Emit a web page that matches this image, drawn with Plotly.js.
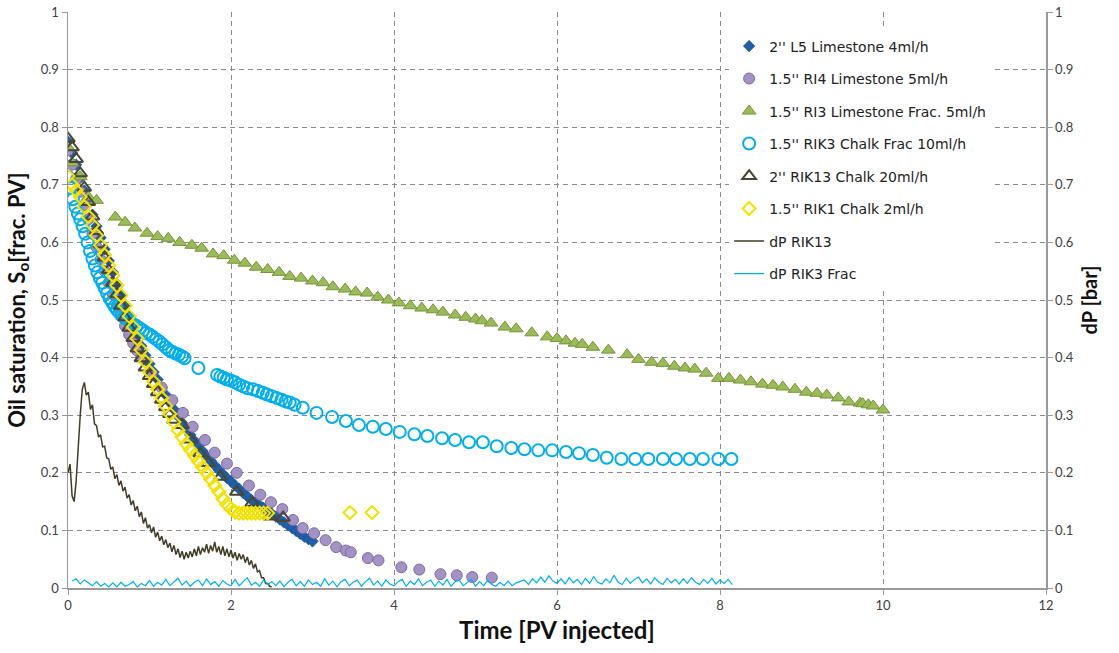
<!DOCTYPE html>
<html>
<head>
<meta charset="utf-8">
<script src="https://cdn.plot.ly/plotly-3.0.1.min.js"></script>
<style>html,body{margin:0;padding:0;background:#fff;}#chart{width:1119px;height:653px;}</style>
</head>
<body>
<div id="chart"></div>
<script>
// ---------- DATA ----------
const l5X = [0,0.05,0.1,0.15,0.2,0.25,0.3,0.35,0.4,0.45,0.5,0.55,0.6,0.65,0.7,0.75,0.8,0.85,0.9,0.95,1.0,1.05,1.1,1.15,1.2,1.25,1.3,1.35,1.4,1.45,1.5,1.55,1.6,1.65,1.7,1.75,1.8,1.85,1.9,1.95,2.0,2.05,2.1,2.15,2.2,2.25,2.3,2.35,2.4,2.45,2.5,2.55,2.6,2.65,2.7,2.75,2.8,2.85,2.9,2.95,3.0];
const l5Y = [0.775,0.755,0.735,0.712,0.69,0.668,0.648,0.628,0.608,0.588,0.568,0.548,0.528,0.508,0.49,0.472,0.455,0.437,0.42,0.404,0.389,0.375,0.362,0.348,0.335,0.322,0.31,0.298,0.287,0.276,0.266,0.256,0.247,0.238,0.229,0.221,0.213,0.205,0.198,0.191,0.185,0.178,0.172,0.165,0.159,0.153,0.148,0.144,0.139,0.134,0.129,0.124,0.119,0.114,0.109,0.104,0.099,0.094,0.089,0.085,0.081];

const ri4X = [0,0.05,0.1,0.15,0.2,0.25,0.3,0.35,0.4,0.45,0.5,0.55,0.6,0.65,0.7,0.75,0.8,0.85,0.9,1.02,1.15,1.28,1.41,1.53,1.68,1.8,1.95,2.07,2.22,2.36,2.49,2.63,2.76,2.88,3.02,3.16,3.29,3.41,3.47,3.68,3.81,4.09,4.31,4.57,4.77,4.96,5.2];
const ri4Y = [0.76,0.735,0.71,0.688,0.665,0.64,0.615,0.592,0.57,0.55,0.53,0.51,0.49,0.472,0.455,0.44,0.425,0.412,0.4,0.372,0.348,0.326,0.304,0.28,0.257,0.235,0.216,0.2,0.178,0.162,0.149,0.137,0.118,0.104,0.095,0.083,0.071,0.065,0.062,0.052,0.048,0.036,0.032,0.024,0.022,0.019,0.018];

const ri3X = [0,0.05,0.15,0.25,0.35,0.58,0.70,0.82,0.97,1.10,1.23,1.37,1.52,1.64,1.78,1.91,2.04,2.17,2.31,2.45,2.59,2.72,2.86,3.0,3.13,3.25,3.4,3.53,3.67,3.80,3.93,4.06,4.2,4.34,4.48,4.6,4.75,4.88,5.0,5.08,5.19,5.36,5.5,5.69,5.88,6.0,6.11,6.22,6.31,6.44,6.63,6.86,7.0,7.16,7.3,7.44,7.57,7.69,7.83,7.98,8.11,8.25,8.38,8.52,8.65,8.77,8.92,9.06,9.19,9.31,9.45,9.58,9.72,9.75,9.82,9.88,10.0];
const ri3Y = [0.765,0.738,0.714,0.679,0.673,0.644,0.635,0.625,0.616,0.61,0.607,0.60,0.595,0.59,0.58,0.577,0.569,0.564,0.557,0.553,0.548,0.541,0.538,0.533,0.53,0.523,0.519,0.514,0.512,0.505,0.50,0.495,0.49,0.486,0.483,0.479,0.474,0.47,0.467,0.464,0.46,0.453,0.45,0.443,0.436,0.433,0.429,0.425,0.423,0.418,0.413,0.405,0.397,0.392,0.39,0.385,0.382,0.38,0.373,0.364,0.364,0.361,0.358,0.354,0.352,0.349,0.345,0.34,0.338,0.335,0.33,0.323,0.321,0.32,0.318,0.316,0.309];

const rik3X = [0,0.03,0.06,0.09,0.12,0.15,0.18,0.21,0.24,0.27,0.3,0.33,0.36,0.39,0.42,0.45,0.48,0.51,0.54,0.57,0.6,0.63,0.66,0.69,0.72,0.76,0.8,0.84,0.88,0.92,0.96,1.0,1.04,1.08,1.12,1.16,1.2,1.24,1.28,1.32,1.36,1.4,1.43,1.6,1.83,1.87,1.91,1.95,2.0,2.05,2.1,2.15,2.2,2.27,2.33,2.39,2.44,2.5,2.56,2.62,2.67,2.72,2.78,2.88,3.05,3.24,3.41,3.57,3.74,3.9,4.07,4.25,4.41,4.59,4.75,4.92,5.09,5.26,5.44,5.6,5.77,5.94,6.11,6.27,6.44,6.61,6.79,6.96,7.12,7.3,7.46,7.63,7.79,7.98,8.14];
const rik3Y = [0.714,0.695,0.675,0.662,0.65,0.64,0.628,0.615,0.6,0.585,0.572,0.56,0.548,0.538,0.53,0.521,0.512,0.503,0.496,0.489,0.483,0.478,0.474,0.47,0.467,0.463,0.458,0.455,0.451,0.447,0.443,0.44,0.436,0.432,0.428,0.423,0.418,0.413,0.41,0.407,0.405,0.402,0.399,0.382,0.37,0.367,0.365,0.362,0.36,0.357,0.353,0.35,0.347,0.345,0.342,0.339,0.336,0.333,0.33,0.327,0.324,0.322,0.318,0.313,0.304,0.297,0.29,0.283,0.28,0.276,0.271,0.267,0.264,0.26,0.257,0.253,0.253,0.246,0.243,0.241,0.239,0.239,0.236,0.234,0.231,0.226,0.224,0.224,0.224,0.224,0.224,0.224,0.224,0.224,0.224];

const rik13X = [0,0.05,0.1,0.15,0.2,0.25,0.3,0.35,0.4,0.45,0.5,0.55,0.6,0.65,0.7,0.75,0.8,0.85,0.9,0.95,1.0,1.05,1.1,1.15,1.2,1.25,1.3,1.4,1.5,1.62,1.72,1.87,2.07,2.26,2.48,2.64];
const rik13Y = [0.78,0.765,0.745,0.72,0.695,0.67,0.645,0.62,0.597,0.574,0.552,0.53,0.51,0.49,0.47,0.452,0.434,0.416,0.399,0.383,0.368,0.354,0.34,0.327,0.314,0.302,0.292,0.283,0.258,0.234,0.217,0.193,0.167,0.148,0.124,0.122];

const rik1X = [0,0.05,0.1,0.15,0.2,0.25,0.3,0.35,0.4,0.45,0.5,0.55,0.6,0.65,0.7,0.75,0.8,0.85,0.9,0.95,1.0,1.05,1.1,1.15,1.2,1.25,1.3,1.35,1.4,1.45,1.5,1.55,1.6,1.65,1.7,1.75,1.8,1.85,1.9,1.95,2.0,2.05,2.1,2.15,2.2,2.25,2.3,2.35,2.4,2.45,3.46,3.73];
const rik1Y = [0.715,0.70,0.69,0.679,0.662,0.645,0.63,0.612,0.595,0.578,0.56,0.543,0.525,0.508,0.49,0.472,0.453,0.433,0.413,0.393,0.375,0.358,0.345,0.33,0.316,0.302,0.288,0.274,0.262,0.25,0.24,0.23,0.22,0.21,0.2,0.189,0.178,0.167,0.155,0.145,0.137,0.132,0.13,0.13,0.13,0.13,0.13,0.13,0.13,0.13,0.131,0.131];

// dP RIK13, sampled every 0.025 PV from 0
const dpRik13Start = 0, dpRik13Step = 0.025;
const dpRik13 = [0.2,0.215,0.16,0.15,0.185,0.255,0.3,0.345,0.357,0.335,0.34,0.31,0.318,0.285,0.282,0.262,0.266,0.245,0.246,0.226,0.224,0.206,0.21,0.19,0.197,0.178,0.186,0.168,0.175,0.156,0.162,0.144,0.152,0.134,0.142,0.124,0.132,0.112,0.122,0.104,0.11,0.096,0.106,0.088,0.097,0.082,0.09,0.075,0.084,0.07,0.078,0.063,0.074,0.058,0.068,0.053,0.064,0.05,0.062,0.052,0.064,0.054,0.068,0.056,0.072,0.058,0.07,0.062,0.076,0.06,0.074,0.064,0.08,0.062,0.072,0.058,0.072,0.056,0.068,0.054,0.066,0.052,0.062,0.048,0.06,0.05,0.058,0.044,0.054,0.04,0.048,0.034,0.042,0.028,0.03,0.018,0.018,0.008,0.008,0.003,0.002];

// dP RIK3 Frac, sampled every 0.05 PV from 0.05
const dpRik3Start = 0.05, dpRik3Step = 0.05;
const dpRik3 = [
0.012,0.016,0.007,0.014,0.009,0.004,0.011,0.003,0.008,0.002,
0.009,0.002,0.010,0.003,0.006,0.011,0.002,0.008,0.004,0.013,
0.003,0.010,0.005,0.015,0.004,0.011,0.017,0.005,0.012,0.003,
0.010,0.014,0.004,0.016,0.006,0.011,0.003,0.013,0.007,0.004,
0.015,0.004,0.011,0.018,0.005,0.010,0.003,0.014,0.006,0.011,
0.004,0.012,0.002,0.010,0.015,0.004,0.011,0.003,0.014,0.006,
0.010,0.003,0.016,0.005,0.012,0.002,0.011,0.015,0.004,0.010,
0.014,0.003,0.011,0.017,0.005,0.012,0.003,0.014,0.007,0.004,
0.011,0.015,0.003,0.012,0.006,0.016,0.004,0.010,0.014,0.003,
0.012,0.005,0.015,0.003,0.011,0.014,0.004,0.010,0.015,0.003,
0.011,0.004,0.013,0.006,0.003,0.010,0.004,0.012,0.004,0.009,
0.011,0.014,0.006,0.016,0.009,0.019,0.010,0.021,0.012,0.008,
0.016,0.007,0.018,0.009,0.015,0.006,0.017,0.008,0.020,0.010,
0.007,0.016,0.009,0.022,0.010,0.006,0.017,0.008,0.015,0.019,
0.009,0.016,0.007,0.018,0.010,0.006,0.017,0.009,0.015,0.007,
0.016,0.008,0.018,0.010,0.006,0.015,0.008,0.017,0.007,0.014,
0.008,0.015,0.006];

const names = ["2'' L5 Limestone 4ml/h","1.5'' RI4 Limestone 5ml/h","1.5'' RI3 Limestone Frac. 5ml/h","1.5'' RIK3 Chalk Frac 10ml/h","2'' RIK13 Chalk 20ml/h","1.5'' RIK1 Chalk 2ml/h","dP RIK13","dP RIK3 Frac"];
const xTicks = [0,2,4,6,8,10,12];

// ---------- BUILD ----------
const sampled = (start, step, arr) => arr.map((_, i) => +(start + i * step).toFixed(4));

const traces = [
  {x:l5X, y:l5Y, name:names[0], mode:'markers', type:'scatter', legendgroup:'g0',
   marker:{symbol:'diamond', size:9, color:'#1f5ea8', line:{color:'#1a4f8f', width:0.5}}},
  {x:ri4X, y:ri4Y, name:names[1], mode:'markers', type:'scatter', legendgroup:'g1',
   marker:{symbol:'circle', size:11, color:'#a392c4', line:{color:'#7e69a6', width:1}}},
  {x:ri3X, y:ri3Y, name:names[2], mode:'markers', type:'scatter', legendgroup:'g2',
   marker:{symbol:'triangle-up', size:12, color:'#9bbb59', line:{color:'#76923c', width:1}}},
  {x:rik3X, y:rik3Y, name:names[3], mode:'markers', type:'scatter', legendgroup:'g3',
   marker:{symbol:'circle-open', size:12, color:'#00aeef', line:{color:'#00aeef', width:2}}},
  {x:rik13X, y:rik13Y, name:names[4], mode:'markers', type:'scatter', legendgroup:'g4',
   marker:{symbol:'triangle-up-open', size:12, color:'#4a4630', line:{color:'#4a4630', width:2}}},
  {x:rik1X, y:rik1Y, name:names[5], mode:'markers', type:'scatter', legendgroup:'g5',
   marker:{symbol:'diamond-open', size:10, color:'#f2e200', line:{color:'#f2e200', width:2}}},
  {x:sampled(dpRik13Start, dpRik13Step, dpRik13), y:dpRik13, name:names[6], mode:'lines', type:'scatter', yaxis:'y2', legendgroup:'g6',
   line:{color:'#403c26', width:1.5}},
  {x:sampled(dpRik3Start, dpRik3Step, dpRik3), y:dpRik3, name:names[7], mode:'lines', type:'scatter', yaxis:'y2', legendgroup:'g7',
   line:{color:'#00aeef', width:1.2}}
];

const fontFam = 'Lato, "Open Sans", sans-serif';
const legFam = '"DejaVu Sans", "Open Sans", sans-serif';
const gridStyle = {showgrid:true, gridcolor:'#8a8a8a', gridwidth:1, griddash:'5px,4px'};

const layout = {
  width:1119, height:653,
  margin:{l:68, r:73, t:12, b:65},
  paper_bgcolor:'#ffffff', plot_bgcolor:'#ffffff',
  font:{family:fontFam, color:'#404040', size:13},
  showlegend:true,
  legend:{x:0.676, y:0.968, xanchor:'left', yanchor:'top', bgcolor:'#ffffff', borderwidth:0,
          font:{family:legFam, size:14, color:'#222'}, tracegroupgap:11.3, itemsizing:'trace'},
  xaxis:Object.assign({range:[0,12], tickvals:xTicks, ticktext:xTicks.map(String), zeroline:false,
          showline:true, linecolor:'#9a9a9a', linewidth:1.5, ticks:'outside', ticklen:5, tickcolor:'#9a9a9a',
          tickfont:{family:fontFam, size:13, color:'#404040'},
          title:{text:'Time [PV injected]', font:{family:fontFam, size:24, color:'#111', weight:'bold'}, standoff:10}}, gridStyle),
  yaxis:Object.assign({range:[0,1], dtick:0.1, zeroline:false, showline:true, linecolor:'#9a9a9a', linewidth:1.5,
          ticks:'outside', ticklen:5, tickcolor:'#9a9a9a',
          tickfont:{family:fontFam, size:13, color:'#404040'},
          title:{text:'Oil saturation, S<sub>o</sub>[frac. PV]', font:{family:fontFam, size:22, color:'#111', weight:'bold'}, standoff:9}}, gridStyle),
  yaxis2:{range:[0,1], dtick:0.1, overlaying:'y', side:'right', showgrid:false, zeroline:false,
          showline:true, linecolor:'#9a9a9a', linewidth:1.5, ticks:'outside', ticklen:5, tickcolor:'#9a9a9a',
          tickfont:{family:fontFam, size:13, color:'#404040'},
          title:{text:'dP [bar]', font:{family:fontFam, size:20, color:'#111', weight:'bold'}, standoff:10}}
};

Plotly.newPlot('chart', traces, layout, {displayModeBar:false, staticPlot:true});
</script>
</body>
</html>
